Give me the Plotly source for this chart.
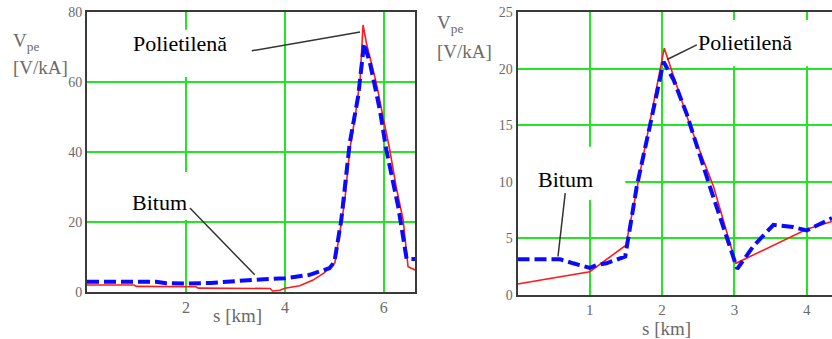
import plotly.graph_objects as go

# ---------------- data ----------------
# Left chart
left_poli_x = [0, 0.95, 1.0, 2.2, 2.25, 3.7, 3.75, 3.9, 4.0, 4.3, 4.57, 4.8, 4.91, 5.01, 5.14,
               5.21, 5.31, 5.42, 5.52, 5.58, 5.65, 5.85, 5.97, 6.12, 6.25, 6.39, 6.49, 6.63]
left_poli_y = [2.0, 2.0, 1.6, 1.5, 1.1, 1.0, 0.3, 0.5, 1.1, 1.8, 3.4, 5.5, 7.2, 8.3, 19.7,
               26, 40.6, 50, 60.6, 76.3, 71, 59.6, 51, 40.6, 30, 20.6, 7.2, 6.3]
left_bit_x = [0, 1.4, 1.6, 2.0, 2.5, 3.0, 3.5, 4.0, 4.5, 4.9, 5.0, 5.14, 5.31, 5.48, 5.60,
              5.72, 5.92, 6.05, 6.29, 6.46, 6.63]
left_bit_y = [2.95, 2.9, 2.5, 2.4, 2.6, 3.2, 3.6, 3.9, 4.9, 6.8, 8.5, 20.6, 42.5, 55.8, 71,
              65.4, 52, 40.6, 24.4, 9.5, 9.4]

# Right chart
right_poli_x = [0, 1.0, 1.5, 2.03, 2.39, 2.71, 3.02, 4.0, 4.35]
right_poli_y = [0.97, 2.06, 4.4, 21.8, 14.9, 9.6, 2.8, 5.8, 6.5]
right_bit_x = [0, 0.59, 0.77, 1.0, 1.1, 1.23, 1.49, 1.65, 1.83, 2.02, 2.16, 2.34, 2.66, 2.96,
               3.04, 3.26, 3.54, 3.81, 4.0, 4.35]
right_bit_y = [3.15, 3.15, 2.8, 2.4, 2.65, 2.8, 3.4, 9.6, 14.9, 20.6, 19, 16, 9.6, 3.7,
               2.3, 4.3, 6.2, 6.0, 5.7, 6.8]

left_xticks = [2, 4, 6]
left_yticks = [0, 20, 40, 60, 80]
right_xticks = [1, 2, 3, 4]
right_yticks = [0, 5, 10, 15, 20, 25]

label_poli = "Polietilenă"
label_bit = "Bitum"
x_title = "s [km]"
y_title_1 = "V<sub>pe</sub>"
y_title_2 = "[V/kA]"

# ---------------- styles ----------------
W, H = 832, 339
RED = "#ff1a1a"
BLUE = "#0a0aff"
GREEN = "#22e622"
FRAME = "#3a3a3a"
GRAY = "#6a6a6a"
SERIF = "Liberation Serif, Times New Roman, serif"


def px_x(p):
    return p / W


def px_y(p):
    return 1 - p / H


fig = go.Figure()

fig.add_trace(go.Scatter(x=left_poli_x, y=left_poli_y, mode="lines", xaxis="x", yaxis="y",
                         line=dict(color=RED, width=1.6), showlegend=False))
fig.add_trace(go.Scatter(x=left_bit_x, y=left_bit_y, mode="lines", xaxis="x", yaxis="y",
                         line=dict(color=BLUE, width=4, dash="12px,5px"), showlegend=False))
fig.add_trace(go.Scatter(x=right_poli_x, y=right_poli_y, mode="lines", xaxis="x2", yaxis="y2",
                         line=dict(color=RED, width=1.6), showlegend=False))
fig.add_trace(go.Scatter(x=right_bit_x, y=right_bit_y, mode="lines", xaxis="x2", yaxis="y2",
                         line=dict(color=BLUE, width=4, dash="12px,5px"), showlegend=False))

axis_common = dict(showgrid=True, gridcolor=GREEN, gridwidth=2, zeroline=False,
                   showline=True, linecolor=FRAME, linewidth=2, ticks="", automargin=False,
                   tickfont=dict(family=SERIF, size=14, color=GRAY), fixedrange=True)

fig.update_layout(
    template="none",
    width=W, height=H, autosize=False,
    margin=dict(l=0, r=0, t=0, b=0, pad=0),
    paper_bgcolor="white", plot_bgcolor="white",
    xaxis=dict(axis_common, domain=[px_x(87), px_x(415)], range=[0, 6.63],
               tickvals=left_xticks, mirror=True, anchor="y",
               tickfont=dict(family=SERIF, size=16, color=GRAY)),
    yaxis=dict(axis_common, domain=[px_y(292), px_y(12)], range=[0, 80],
               tickvals=left_yticks, mirror=True, anchor="x", ticklabelstandoff=0),
    xaxis2=dict(axis_common, domain=[px_x(517.5), 1.0], range=[0, 4.35],
                tickvals=right_xticks, mirror=True, anchor="y2",
                tickfont=dict(family=SERIF, size=15, color=GRAY)),
    yaxis2=dict(axis_common, domain=[px_y(295), px_y(12)], range=[0, 25],
                tickvals=right_yticks, mirror=False, anchor="x2", ticklabelstandoff=0),
)

# white label boxes that hide the grid (between grid and traces)
boxes = [
    ("x", "y", 0.87, 2.99, 61.4, 74.9),
    ("x", "y", 0.77, 2.28, 20.6, 34.3),
    ("x2", "y2", 0.0, 1.49, 8.4, 13.1),
    ("x2", "y2", 2.39, 4.11, 20.2, 24.3),
]
for xr, yr, x0, x1, y0, y1 in boxes:
    fig.add_shape(type="rect", xref=xr, yref=yr, x0=x0, x1=x1, y0=y0, y1=y1,
                  fillcolor="white", line=dict(width=0), layer="between")

# leader lines
leaders = [
    ("x", "y", 3.33, 68.9, 5.52, 74.3),
    ("x", "y", 2.08, 24.0, 3.39, 4.9),
    ("x2", "y2", 2.48, 22.1, 2.07, 20.8),
    ("x2", "y2", 0.66, 9.0, 0.56, 3.4),
]
for xr, yr, x0, y0, x1, y1 in leaders:
    fig.add_shape(type="line", xref=xr, yref=yr, x0=x0, y0=y0, x1=x1, y1=y1,
                  line=dict(color="#333333", width=1.5), layer="above")

label_font = dict(family=SERIF, size=22, color="black")
for xr, yr, xv, yv, txt in [("x", "y", 1.88, 71.1, label_poli),
                            ("x", "y", 1.47, 25.7, label_bit),
                            ("x2", "y2", 3.15, 22.3, label_poli),
                            ("x2", "y2", 0.66, 10.2, label_bit)]:
    fig.add_annotation(x=xv, y=yv, xref=xr, yref=yr, text=txt, showarrow=False,
                       xanchor="center", yanchor="middle", font=label_font)

title_font = dict(family=SERIF, size=19, color=GRAY)
# x-axis titles
for cx, cy in [(237, 315), (666, 328.5)]:
    fig.add_annotation(x=px_x(cx), y=px_y(cy), xref="paper", yref="paper", text=x_title,
                       showarrow=False, xanchor="center", yanchor="middle", font=title_font)
# y-axis titles
for xl, yv, yb in [(11, 42, 68), (435, 24, 51)]:
    fig.add_annotation(x=px_x(xl), y=px_y(yv), xref="paper", yref="paper", text=y_title_1,
                       showarrow=False, xanchor="left", yanchor="middle", font=title_font)
    fig.add_annotation(x=px_x(xl), y=px_y(yb), xref="paper", yref="paper", text=y_title_2,
                       showarrow=False, xanchor="left", yanchor="middle", font=title_font)

fig.write_html(
    "out.html",
    config={"displayModeBar": False},
    post_script="document.body.style.margin='0';document.body.style.overflow='hidden';",
)
